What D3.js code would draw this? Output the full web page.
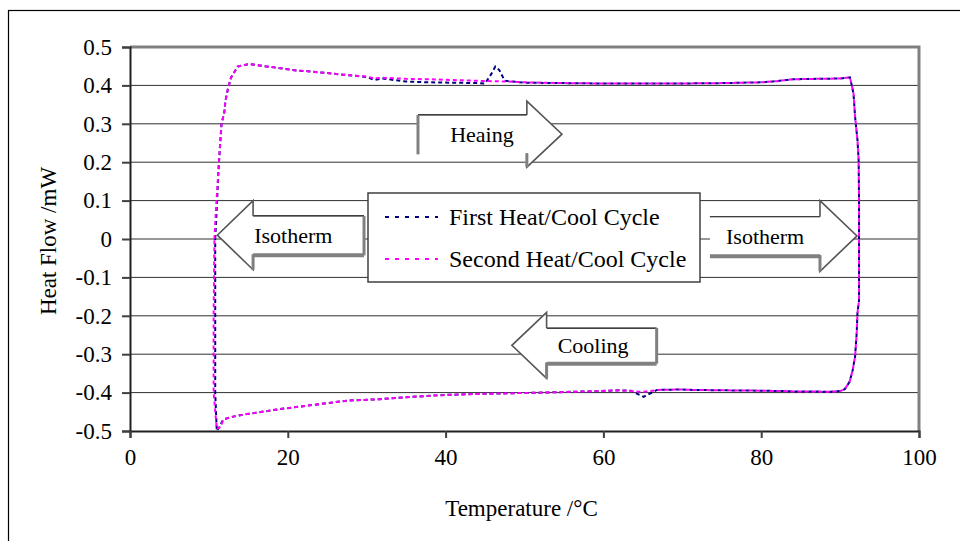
<!doctype html>
<html>
<head>
<meta charset="utf-8">
<script src="https://cdnjs.cloudflare.com/ajax/libs/d3/7.8.5/d3.min.js"></script>
<style>
body { margin: 0; background: #fff; }
text { font-family: "Liberation Serif", "Times New Roman", serif; fill: #000; }
.grid line { stroke: #303030; stroke-width: 1; }
</style>
</head>
<body>
<svg id="chart" width="960" height="541"></svg>
<script>
// heat flow loop (temperature degC, heat flow mW)
var tempSecond = [10.7, 10.9, 11.2, 11.4, 11.6, 11.95, 12.1, 12.4, 12.8, 13.65, 15.1, 16.7, 18.2, 19.6, 21.1, 22.5, 24, 27, 30, 31, 32, 35, 38, 41, 44, 46, 48, 50, 55, 60, 65, 70, 75, 80, 82, 84, 87, 90, 91.25,
  91.7, 91.9, 92.2, 92.35, 92.4, 92.4, 92.4, 92.2, 92.1, 91.9, 91.6, 91.2, 90.6, 90, 88.7, 86.6, 84.5, 82.8, 80, 75, 71.4, 69.7, 67, 65, 62, 58, 54, 50, 45, 40, 35, 31.7, 27.5, 23.2, 19, 14.8, 12.7, 11.8, 11.5, 11.0, 10.6, 10.6, 10.65, 10.7];
var flowSecond = [0.00, 0.08, 0.175, 0.24, 0.30, 0.33, 0.36, 0.39, 0.42, 0.449, 0.456, 0.451, 0.447, 0.443, 0.439, 0.437, 0.434, 0.428, 0.423, 0.418, 0.420, 0.417, 0.416, 0.414, 0.412, 0.411, 0.410, 0.408, 0.406, 0.405, 0.405, 0.405, 0.406, 0.408, 0.411, 0.416, 0.417, 0.418, 0.421,
  0.379, 0.318, 0.258, 0.206, 0.10, 0.00, -0.159, -0.193, -0.246, -0.306, -0.341, -0.372, -0.391, -0.396, -0.398, -0.397, -0.397, -0.396, -0.395, -0.394, -0.393, -0.392, -0.393, -0.398, -0.394, -0.397, -0.399, -0.401, -0.403, -0.406, -0.412, -0.417, -0.421, -0.432, -0.443, -0.456, -0.464, -0.471, -0.489, -0.495, -0.40, -0.20, -0.10, 0.00];

var tempFirst = [10.8, 11.0, 11.2, 11.4, 11.6, 11.95, 12.1, 12.4, 12.8, 13.65, 15.1, 16.7, 18.2, 19.6, 21.1, 22.5, 24, 27, 30, 31, 32, 35, 38, 41, 44, 45, 45.8, 46.3, 46.8, 47.5, 50, 55, 60, 65, 70, 75, 80, 82, 84, 87, 90, 91.25,
  91.7, 91.9, 92.2, 92.35, 92.4, 92.4, 92.4, 92.2, 92.1, 91.9, 91.6, 91.2, 90.6, 90, 88.7, 86.6, 84.5, 82.8, 80, 75, 71.4, 69.7, 66.8, 65.1, 63.5, 62, 58, 54, 50, 45, 40, 35, 31.7, 27.5, 23.2, 19, 14.8, 12.7, 11.8, 11.3, 11.0, 10.8, 10.8, 10.8, 10.8];
var flowFirst = [0.00, 0.08, 0.175, 0.24, 0.30, 0.33, 0.36, 0.39, 0.42, 0.449, 0.456, 0.451, 0.447, 0.443, 0.439, 0.437, 0.434, 0.428, 0.422, 0.414, 0.418, 0.410, 0.408, 0.407, 0.406, 0.405, 0.43, 0.449, 0.44, 0.412, 0.407, 0.406, 0.405, 0.405, 0.405, 0.406, 0.408, 0.411, 0.416, 0.417, 0.418, 0.421,
  0.379, 0.318, 0.258, 0.206, 0.10, 0.00, -0.159, -0.193, -0.246, -0.306, -0.341, -0.372, -0.391, -0.396, -0.398, -0.397, -0.397, -0.396, -0.395, -0.394, -0.393, -0.392, -0.393, -0.411, -0.395, -0.394, -0.397, -0.399, -0.401, -0.403, -0.406, -0.412, -0.417, -0.421, -0.432, -0.443, -0.456, -0.464, -0.471, -0.49, -0.50, -0.40, -0.20, -0.10, 0.00];

var seriesNames = ["First Heat/Cool Cycle", "Second Heat/Cool Cycle"];
var seriesColors = ["#000080", "#ff00ff"];
var xTicks = [0, 20, 40, 60, 80, 100];
var yTicks = [-0.5, -0.4, -0.3, -0.2, -0.1, 0, 0.1, 0.2, 0.3, 0.4, 0.5];

// block arrows: tail x, head base x, tip x, mid y, half heights (data units)
var arrows = [
  {label: "Heaing", tail: 36.5, base: 50.3, tip: 54.75, mid: 0.273, body: 0.05, head: 0.086, textX: 44.6, shadow: ["tail"]},
  {label: "Isotherm", tail: 29.66, base: 15.6, tip: 11.07, mid: 0.01, body: 0.05, head: 0.09, textX: 20.7, shadow: ["tail", "bottom"]},
  {label: "Isotherm", tail: 73.5, base: 87.45, tip: 92.14, mid: 0.008, body: 0.05, head: 0.092, textX: 80.5, shadow: ["bottom"]},
  {label: "Cooling", tail: 66.75, base: 52.8, tip: 48.4, mid: -0.277, body: 0.045, head: 0.086, textX: 58.7, shadow: ["tail", "bottom"]}
];

var svg = d3.select("#chart");

// outer frame (left and top edges are in view)
svg.append("rect")
  .attr("x", 8.5).attr("y", 10.5)
  .attr("width", 1000).attr("height", 600)
  .style("fill", "#fff").style("stroke", "#000").style("stroke-width", 1.2);

var x = d3.scaleLinear().domain([0, 100]).range([130, 919]);
var y = d3.scaleLinear().domain([-0.5, 0.5]).range([431, 47]);

var fmt = d => String(Math.round(d * 10) / 10);

// gridlines
svg.append("g").attr("class", "grid")
  .selectAll("line")
  .data(yTicks.filter(d => d > -0.5 && d < 0.5))
  .enter().append("line")
  .attr("x1", x(0)).attr("x2", x(100))
  .attr("y1", d => y(d)).attr("y2", d => y(d));

// plot border: top and right in gray
svg.append("path")
  .attr("d", "M" + x(0) + "," + y(0.5) + "H" + x(100) + "V" + y(-0.5))
  .style("fill", "none").style("stroke", "#808080").style("stroke-width", 3);

// axes
var yAxis = svg.append("g")
  .attr("transform", "translate(" + x(0) + ",0)")
  .call(d3.axisLeft(y).tickValues(yTicks).tickSize(8).tickPadding(10).tickFormat(fmt));
var xAxis = svg.append("g")
  .attr("transform", "translate(0," + y(-0.5) + ")")
  .call(d3.axisBottom(x).tickValues(xTicks).tickSize(7).tickPadding(11).tickFormat(fmt));

[yAxis, xAxis].forEach(function(a) {
  a.select(".domain").style("stroke", "#202020").style("stroke-width", 2);
  a.selectAll(".tick line").style("stroke", "#404040").style("stroke-width", 2);
  a.selectAll("text").style("font-family", "Liberation Serif").style("font-size", "23px").style("fill", "#000");
});

// series lines
var line = d3.line().x(d => x(d[0])).y(d => y(d[1]));
var seriesData = [
  d3.zip(tempFirst, flowFirst),
  d3.zip(tempSecond, flowSecond)
];

svg.append("g").selectAll("path")
  .data(seriesData)
  .enter().append("path")
  .attr("d", line)
  .style("fill", "none")
  .style("stroke", (d, i) => seriesColors[i])
  .style("stroke-width", 2)
  .style("stroke-dasharray", "4,3");

// arrows
var ag = svg.append("g");
arrows.forEach(function(a) {
  var xt = x(a.tail), xb = x(a.base), xp = x(a.tip);
  var ym = y(a.mid), yt = y(a.mid + a.body), ybo = y(a.mid - a.body);
  var yht = y(a.mid + a.head), yhb = y(a.mid - a.head);
  var pts = [[xt, yt], [xb, yt], [xb, yht], [xp, ym], [xb, yhb], [xb, ybo], [xt, ybo]];
  ag.append("polygon")
    .attr("points", pts.map(p => p.join(",")).join(" "))
    .style("fill", "#fff");
  ag.append("line").attr("x1", xt).attr("x2", xb).attr("y1", yt).attr("y2", yt)
    .style("stroke", "#000").style("stroke-width", 1.2);
  ag.append("polyline")
    .attr("points", [[xb, yt], [xb, yht], [xp, ym], [xb, yhb], [xb, ybo]].map(p => p.join(",")).join(" "))
    .style("fill", "none").style("stroke", "#555").style("stroke-width", 1.6);
  ag.append("line").attr("x1", xb).attr("x2", xb).attr("y1", ybo).attr("y2", yhb)
    .style("stroke", "#808080").style("stroke-width", 3);
  if (a.shadow.indexOf("tail") >= 0) {
    ag.append("line").attr("x1", xt).attr("x2", xt).attr("y1", yt).attr("y2", ybo + 1)
      .style("stroke", "#808080").style("stroke-width", 3);
  }
  if (a.shadow.indexOf("bottom") >= 0) {
    ag.append("line").attr("x1", xt).attr("x2", xb).attr("y1", ybo + 1).attr("y2", ybo + 1)
      .style("stroke", "#808080").style("stroke-width", 4);
  }
  ag.append("text")
    .attr("x", x(a.textX)).attr("y", ym)
    .attr("dy", "0.35em")
    .style("text-anchor", "middle")
    .style("font-size", "22px")
    .text(a.label);
});

// legend
var lg = svg.append("g").attr("transform", "translate(368,193)");
lg.append("rect")
  .attr("width", 332).attr("height", 89)
  .style("fill", "#fff").style("stroke", "#404040").style("stroke-width", 1.5);
var items = lg.selectAll("g.item")
  .data(seriesNames)
  .enter().append("g")
  .attr("class", "item")
  .attr("transform", (d, i) => "translate(0," + (24 + i * 42) + ")");
items.append("line")
  .attr("x1", 17).attr("x2", 70)
  .style("stroke", (d, i) => seriesColors[i])
  .style("stroke-width", 2)
  .style("stroke-dasharray", "4,6");
items.append("text")
  .attr("x", 81).attr("dy", "0.35em")
  .style("font-size", "24px")
  .text(d => d);

// axis titles
svg.append("text")
  .attr("x", x(50) - 3).attr("y", 516)
  .style("text-anchor", "middle")
  .style("font-size", "23px")
  .text("Temperature /\u00b0C");
svg.append("text")
  .attr("transform", "translate(56,241) rotate(-90)")
  .style("text-anchor", "middle")
  .style("font-size", "23px")
  .text("Heat Flow /mW");
</script>
</body>
</html>
